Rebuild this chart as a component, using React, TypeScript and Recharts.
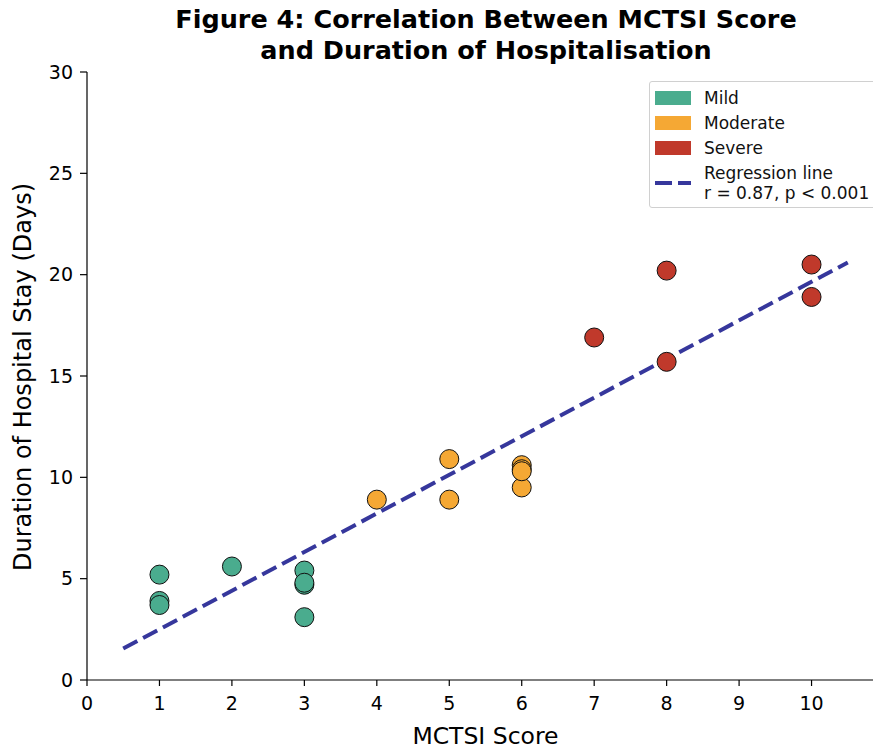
import { ScatterChart, Scatter, XAxis, YAxis, Legend } from "recharts";

const mildX = [1, 1, 1, 2, 3, 3, 3, 3];
const mildY = [5.2, 3.9, 3.7, 5.6, 5.4, 4.7, 4.8, 3.1];
const moderateX = [4, 5, 5, 6, 6, 6, 6];
const moderateY = [8.9, 10.9, 8.9, 10.6, 10.4, 9.5, 10.3];
const severeX = [7, 8, 8, 10, 10];
const severeY = [16.9, 20.2, 15.7, 20.5, 18.9];
const regressionX = [0.5, 10.5];
const regressionY = [1.55, 20.6];
const xTicks = [0, 1, 2, 3, 4, 5, 6, 7, 8, 9, 10];
const yTicks = [0, 5, 10, 15, 20, 25, 30];

const COLORS = {
  mild: "#4aac8e",
  moderate: "#f5a834",
  severe: "#c0392b",
  line: "#36379c",
};
const FONT = "'DejaVu Sans', sans-serif";

const toPoints = (xs: number[], ys: number[]) => xs.map((x, i) => ({ x, y: ys[i] }));

const dot = (fill: string) => (props: any) => (
  <circle cx={props.cx} cy={props.cy} r={9.5} fill={fill} stroke="#111" strokeWidth={1} />
);

const renderLegend = () => {
  const patches = [
    { label: "Mild", color: COLORS.mild },
    { label: "Moderate", color: COLORS.moderate },
    { label: "Severe", color: COLORS.severe },
  ];
  return (
    <div
      style={{
        border: "1px solid #d0d0d0",
        borderRadius: 3,
        background: "rgba(255,255,255,0.8)",
        padding: "3px 6px 4px 5px",
        fontFamily: FONT,
        fontSize: 17,
        color: "#111",
        width: 240,
        boxSizing: "border-box",
      }}
    >
      {patches.map((p) => (
        <div key={p.label} style={{ display: "flex", alignItems: "center", height: 25 }}>
          <span style={{ width: 36, height: 14, background: p.color, marginRight: 13 }} />
          <span>{p.label}</span>
        </div>
      ))}
      <div style={{ display: "flex", alignItems: "center", lineHeight: "20px", marginTop: 3 }}>
        <svg width={36} height={6} style={{ marginRight: 13 }}>
          <line x1={0} y1={3} x2={36} y2={3} stroke={COLORS.line} strokeWidth={4} strokeDasharray="17 6" />
        </svg>
        <span>
          Regression line
          <br />r = 0.87, p &lt; 0.001
        </span>
      </div>
    </div>
  );
};

const App = () => {
  return (
    <div style={{ position: "absolute", left: 0, top: 0, width: 873, height: 749, overflow: "hidden", background: "#fff" }}>
      <div
        style={{
          position: "absolute",
          top: 4,
          left: 86,
          width: 800,
          textAlign: "center",
          fontFamily: FONT,
          fontWeight: "bold",
          fontSize: 25.5,
          lineHeight: "31px",
          color: "#000",
        }}
      >
        Figure 4: Correlation Between MCTSI Score
        <br />
        and Duration of Hospitalisation
      </div>
      <ScatterChart width={884} height={749} margin={{ top: 72, right: 0, left: 0, bottom: 0 }}>
        <XAxis
          type="number"
          dataKey="x"
          domain={[0, 11]}
          ticks={xTicks}
          allowDataOverflow
          height={69}
          stroke="#000"
          strokeWidth={1.2}
          tickSize={6}
          tickMargin={11}
          tick={{ fontSize: 19, fill: "#000", fontFamily: FONT }}
          label={(props: any) => (
            <text x={485.5} y={744} textAnchor="middle" fontSize={23.5} fontFamily={FONT} fill="#000">
              MCTSI Score
            </text>
          )}
        />
        <YAxis
          type="number"
          dataKey="y"
          domain={[0, 30]}
          ticks={yTicks}
          width={87}
          stroke="#000"
          strokeWidth={1.2}
          tickSize={7}
          tickMargin={7}
          tick={{ fontSize: 19, fill: "#000", fontFamily: FONT }}
          label={(props: any) => (
            <text
              x={31}
              y={377}
              transform="rotate(-90, 31, 377)"
              textAnchor="middle"
              fontSize={24}
              fontFamily={FONT}
              fill="#000"
            >
              Duration of Hospital Stay (Days)
            </text>
          )}
        />
        <Scatter
          name="Regression line"
          data={toPoints(regressionX, regressionY)}
          line={{ stroke: COLORS.line, strokeWidth: 4, strokeDasharray: "16 6.5" }}
          shape={() => <g />}
          isAnimationActive={false}
        />
        <Scatter name="Mild" data={toPoints(mildX, mildY)} shape={dot(COLORS.mild)} isAnimationActive={false} />
        <Scatter name="Moderate" data={toPoints(moderateX, moderateY)} shape={dot(COLORS.moderate)} isAnimationActive={false} />
        <Scatter name="Severe" data={toPoints(severeX, severeY)} shape={dot(COLORS.severe)} isAnimationActive={false} />
        <Legend
          layout="horizontal"
          verticalAlign="middle"
          align="center"
          content={renderLegend}
          wrapperStyle={{ top: 81, left: 649, width: 240 }}
        />
      </ScatterChart>
    </div>
  );
};

export default App;
